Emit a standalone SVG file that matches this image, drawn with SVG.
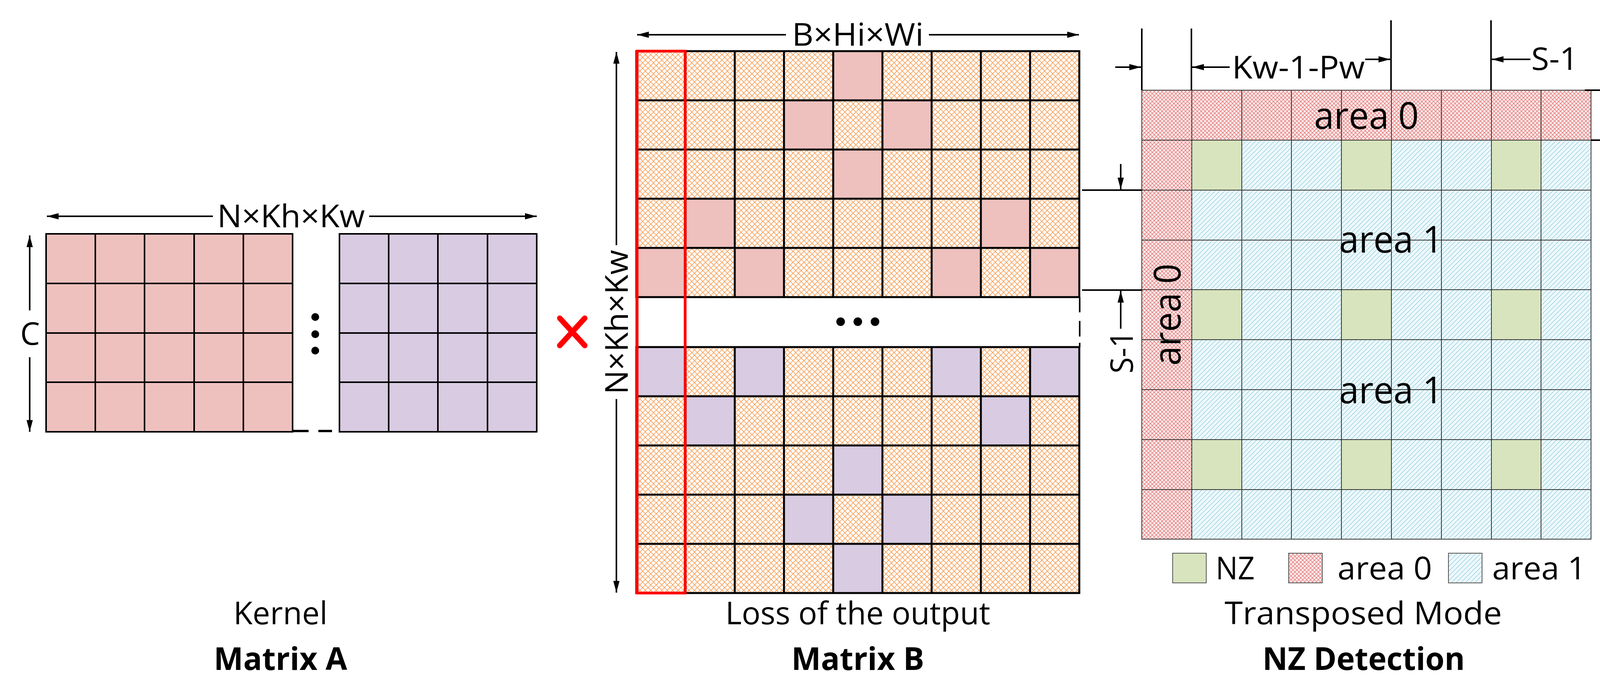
<svg xmlns="http://www.w3.org/2000/svg" width="4249" height="1793" viewBox="0 0 4249 1793">
<defs>
<style>
text{font-family:"Open Sans","Liberation Sans",sans-serif;fill:#000}
.t{font-size:80px}
.b{font-size:80px;font-weight:bold}
.a{font-size:96px}
.g{stroke:#000;stroke-width:5;fill:none}
.n{stroke:#333;stroke-width:2;fill:none}
.d{stroke:#000;stroke-width:4;fill:none}
</style>
<marker id="ar" viewBox="0 0 30 16" refX="30" refY="8" markerWidth="30" markerHeight="16" markerUnits="userSpaceOnUse" orient="auto"><path d="M0,0L30,8L0,16z" fill="#000"/></marker>
<pattern id="po" width="14" height="14" patternUnits="userSpaceOnUse"><rect width="14" height="14" fill="#fff"/><path d="M0,0L14,14M14,0L0,14" stroke="#F79646" stroke-width="1.5"/></pattern>
<pattern id="pr" width="10" height="10" patternUnits="userSpaceOnUse"><rect width="10" height="10" fill="#FBEAEA"/><path d="M0,0L10,10M10,0L0,10" stroke="#E06666" stroke-width="1.2"/></pattern>
<pattern id="pb" width="12" height="12" patternUnits="userSpaceOnUse"><rect width="12" height="12" fill="#EEF8FB"/><path d="M0,12L12,0M-3,3L3,-3M9,15L15,9" stroke="#8CCFE0" stroke-width="1.3"/></pattern>
</defs>

<g id="matrixA">
<rect x="118" y="599" width="631" height="507" fill="#EEC1BE"/>
<rect x="869" y="599" width="505" height="507" fill="#D8CBE2"/>
<path class="d" d="M118,599H749V1106H118ZM244,599V1106M370,599V1106M497,599V1106M623,599V1106M118,726H749M118,853H749M118,979H749"/>
<path class="d" d="M869,599H1374V1106H869ZM995,599V1106M1121,599V1106M1248,599V1106M869,726H1374M869,853H1374M869,979H1374"/>
<path d="M749,1104H790M815,1104H850" stroke="#000" stroke-width="6"/>
<circle cx="807" cy="812" r="10"/><circle cx="807" cy="856" r="10"/><circle cx="807" cy="898" r="10"/>
<text class="t" x="745" y="582" text-anchor="middle" textLength="378" lengthAdjust="spacingAndGlyphs" font-size="88">N×Kh×Kw</text>
<text class="t" x="77" y="883" text-anchor="middle" font-size="84">C</text>
<text class="t" x="718" y="1599" text-anchor="middle" font-size="84">Kernel</text>
<text class="b" x="718" y="1716" text-anchor="middle" font-size="84">Matrix A</text>
</g>

<g id="times">
<path d="M1433,815L1497,885M1497,815L1433,885" stroke="#FF0000" stroke-width="14" stroke-linecap="round"/>
</g>

<g id="matrixB">
<rect x="1629" y="131" width="1134" height="630" fill="url(#po)"/>
<rect x="1629" y="889" width="1134" height="630" fill="url(#po)"/>
<g fill="#EEC1BE">
<rect x="2133" y="131" width="126" height="126"/>
<rect x="2007" y="257" width="126" height="126"/><rect x="2259" y="257" width="126" height="126"/>
<rect x="2133" y="383" width="126" height="126"/>
<rect x="1755" y="509" width="126" height="126"/><rect x="2511" y="509" width="126" height="126"/>
<rect x="1629" y="635" width="126" height="126"/><rect x="1881" y="635" width="126" height="126"/><rect x="2385" y="635" width="126" height="126"/><rect x="2637" y="635" width="126" height="126"/>
</g>
<g fill="#D8CBE2">
<rect x="1629" y="889" width="126" height="126"/><rect x="1881" y="889" width="126" height="126"/><rect x="2385" y="889" width="126" height="126"/><rect x="2637" y="889" width="126" height="126"/>
<rect x="1755" y="1015" width="126" height="126"/><rect x="2511" y="1015" width="126" height="126"/>
<rect x="2133" y="1141" width="126" height="126"/>
<rect x="2007" y="1267" width="126" height="126"/><rect x="2259" y="1267" width="126" height="126"/>
<rect x="2133" y="1393" width="126" height="126"/>
</g>
<path class="g" d="M1629,131H2763V761H1629ZM1755,131V761M1881,131V761M2007,131V761M2133,131V761M2259,131V761M2385,131V761M2511,131V761M2637,131V761M1629,257H2763M1629,383H2763M1629,509H2763M1629,635H2763"/>
<path class="g" d="M1629,889H2763V1519H1629ZM1755,889V1519M1881,889V1519M2007,889V1519M2133,889V1519M2259,889V1519M2385,889V1519M2511,889V1519M2637,889V1519M1629,1015H2763M1629,1141H2763M1629,1267H2763M1629,1393H2763"/>
<path d="M1629,761V889M2764,761V800M2764,822V862M2764,878V889" stroke="#000" stroke-width="4"/>
<rect x="1631" y="131" width="123" height="1388" fill="none" stroke="#FF0000" stroke-width="7"/>
<circle cx="2152" cy="824" r="11"/><circle cx="2196" cy="824" r="11"/><circle cx="2240" cy="824" r="11"/>
<text class="t" x="2196" y="117" text-anchor="middle" textLength="337" lengthAdjust="spacingAndGlyphs" font-size="88">B×Hi×Wi</text>
<text class="t" x="2196" y="1599" text-anchor="middle" font-size="84">Loss of the output</text>
<text class="b" x="2196" y="1716" text-anchor="middle" font-size="84">Matrix B</text>
<text class="t" transform="translate(1607,825) rotate(-90)" text-anchor="middle" textLength="370" lengthAdjust="spacingAndGlyphs" font-size="84">N×Kh×Kw</text>
</g>

<g id="nz">
<rect x="2923" y="231" width="1150" height="1150" fill="url(#pb)"/>
<rect x="2923" y="231" width="1150" height="128" fill="url(#pr)"/>
<rect x="2923" y="231" width="128" height="1150" fill="url(#pr)"/>
<g fill="#D7E4BD">
<rect x="3051" y="359" width="128" height="128"/><rect x="3434" y="359" width="128" height="128"/><rect x="3818" y="359" width="128" height="128"/>
<rect x="3051" y="742" width="128" height="128"/><rect x="3434" y="742" width="128" height="128"/><rect x="3818" y="742" width="128" height="128"/>
<rect x="3051" y="1126" width="128" height="128"/><rect x="3434" y="1126" width="128" height="128"/><rect x="3818" y="1126" width="128" height="128"/>
</g>
<path class="n" d="M2923,231H4073V1381H2923ZM3051,231V1381M3179,231V1381M3306,231V1381M3434,231V1381M3562,231V1381M3690,231V1381M3818,231V1381M3945,231V1381M2923,359H4073M2923,487H4073M2923,615H4073M2923,742H4073M2923,870H4073M2923,998H4073M2923,1126H4073M2923,1254H4073"/>
<text class="a" x="3498" y="330" text-anchor="middle" textLength="268" lengthAdjust="spacingAndGlyphs">area 0</text>
<text class="a" x="3561" y="647" text-anchor="middle" textLength="266" lengthAdjust="spacingAndGlyphs">area 1</text>
<text class="a" x="3561" y="1033" text-anchor="middle" textLength="266" lengthAdjust="spacingAndGlyphs">area 1</text>
<text class="a" transform="translate(3022,806) rotate(-90)" text-anchor="middle" textLength="261" lengthAdjust="spacingAndGlyphs">area 0</text>
</g>

<g id="connectors">
<line class="d" x1="545" y1="554" x2="120" y2="554" marker-end="url(#ar)"/>
<line class="d" x1="945" y1="554" x2="1374" y2="554" marker-end="url(#ar)"/>
<line class="d" x1="76" y1="795" x2="76" y2="603" marker-end="url(#ar)"/>
<line class="d" x1="76" y1="915" x2="76" y2="1106" marker-end="url(#ar)"/>
<line class="d" x1="2012" y1="89" x2="1631" y2="89" marker-end="url(#ar)"/>
<line class="d" x1="2378" y1="89" x2="2762" y2="89" marker-end="url(#ar)"/>
<line class="d" x1="1578" y1="628" x2="1578" y2="133" marker-end="url(#ar)"/>
<line class="d" x1="1578" y1="1022" x2="1578" y2="1518" marker-end="url(#ar)"/>
<path d="M2923,73V231M3050,73V231M3561,52V231M3817,52V231" stroke="#000" stroke-width="4"/>
<line class="d" x1="2855" y1="172" x2="2921" y2="172" marker-end="url(#ar)"/>
<line class="d" x1="3148" y1="172" x2="3052" y2="172" marker-end="url(#ar)"/>
<line class="d" x1="3495" y1="152" x2="3559" y2="152" marker-end="url(#ar)"/>
<line class="d" x1="3918" y1="152" x2="3819" y2="152" marker-end="url(#ar)"/>
<path d="M4057,231H4245M4073,359H4245M2770,487H2923M2770,743H2923" stroke="#000" stroke-width="4"/>
<line class="d" x1="4143" y1="166" x2="4143" y2="229" marker-end="url(#ar)"/>
<line class="d" x1="4143" y1="468" x2="4143" y2="361" marker-end="url(#ar)"/>
<line class="d" x1="2869" y1="420" x2="2869" y2="485" marker-end="url(#ar)"/>
<line class="d" x1="2869" y1="842" x2="2869" y2="745" marker-end="url(#ar)"/>
</g>

<g id="labels">
<text class="t" x="3324" y="201" text-anchor="middle" textLength="340" lengthAdjust="spacingAndGlyphs" font-size="88">Kw-1-Pw</text>
<text class="t" x="3980" y="179" text-anchor="middle" textLength="120" lengthAdjust="spacingAndGlyphs" font-size="88">S-1</text>
<text class="t" transform="translate(4172,624) rotate(-90)" text-anchor="middle" textLength="303" lengthAdjust="spacingAndGlyphs" font-size="88">Kh-1-Ph</text>
<text class="t" transform="translate(2900,902) rotate(-90)" text-anchor="middle" textLength="109" lengthAdjust="spacingAndGlyphs" font-size="88">S-1</text>
</g>

<g id="legend">
<rect x="3002" y="1417" width="86" height="76" fill="#D7E4BD" stroke="#555" stroke-width="2"/>
<rect x="3299" y="1417" width="86" height="76" fill="url(#pr)" stroke="#555" stroke-width="2"/>
<rect x="3708" y="1417" width="86" height="76" fill="url(#pb)" stroke="#555" stroke-width="2"/>
<text class="t" x="3112" y="1484" textLength="100" lengthAdjust="spacingAndGlyphs" font-size="84">NZ</text>
<text class="t" x="3424" y="1484" textLength="242" lengthAdjust="spacingAndGlyphs" font-size="84">area 0</text>
<text class="t" x="3820" y="1484" textLength="240" lengthAdjust="spacingAndGlyphs" font-size="84">area 1</text>
<text class="t" x="3490" y="1599" text-anchor="middle" textLength="710" lengthAdjust="spacingAndGlyphs" font-size="84">Transposed Mode</text>
<text class="b" x="3491" y="1716" text-anchor="middle" textLength="518" lengthAdjust="spacingAndGlyphs" font-size="84">NZ Detection</text>
</g>
</svg>
